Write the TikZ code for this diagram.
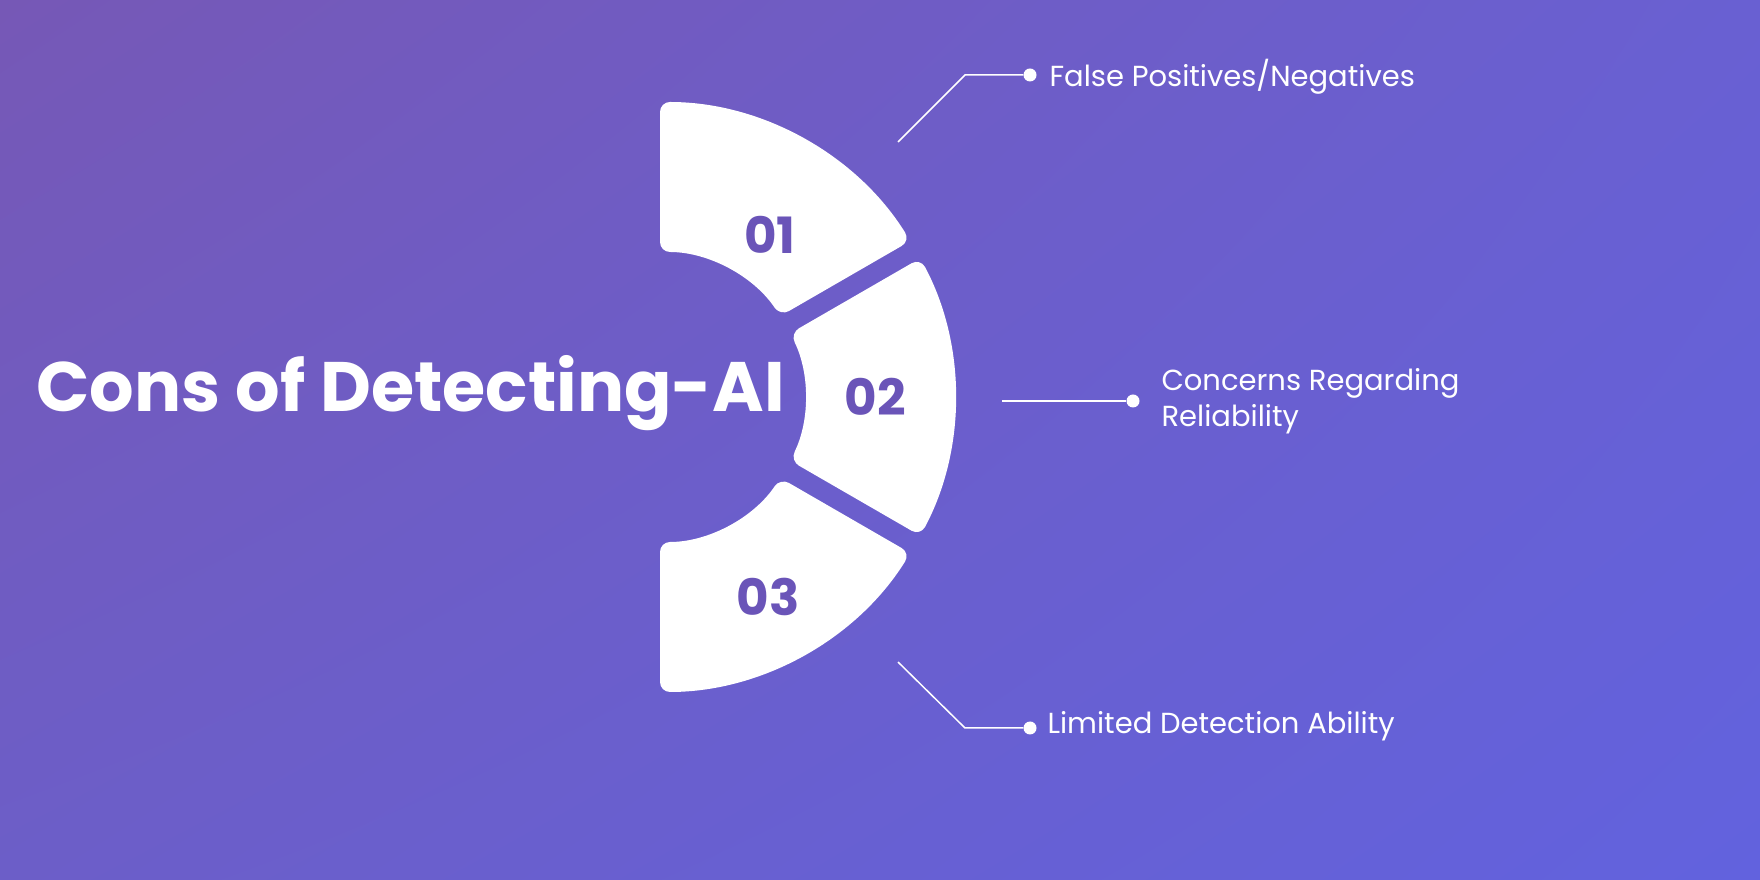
\documentclass[tikz,border=0pt]{standalone}
\usepackage{fontspec}
\usetikzlibrary{calc,shadings}
\setmainfont{Poppins}
\definecolor{numc}{HTML}{6A54B8}
\definecolor{bgul}{RGB}{118,88,182}
\definecolor{bgur}{RGB}{105,96,210}
\definecolor{bgll}{RGB}{108,94,200}
\definecolor{bglr}{RGB}{98,98,222}
\begin{document}
\begin{tikzpicture}[x=1pt,y=1pt,
  seg/.style={fill=white,rounded corners=10pt},
  num/.style={text=numc,font=\fontsize{50}{50}\selectfont\bfseries},
  lab/.style={text=white,font=\fontsize{29}{36}\selectfont,anchor=west,align=left},
  lead/.style={draw=white,line width=1.5pt},
  dotc/.style={circle,fill=white,inner sep=0pt,minimum size=13pt}]
\useasboundingbox (0,0) rectangle (1760,880);
\shade[upper left=bgul,upper right=bgur,lower left=bgll,lower right=bglr] (0,0) rectangle (1760,880);
\coordinate (c) at (660,483);
\path[seg] ($(c)+(90:295)$) arc[start angle=90,end angle=31.94,radius=295] -- ($(c)+(33.95:145)$) arc[start angle=33.95,end angle=90,radius=145] -- cycle;
\path[seg] ($(c)+(28.06:295)$) arc[start angle=28.06,end angle=-28.06,radius=295] -- ($(c)+(-26.05:145)$) arc[start angle=-26.05,end angle=26.05,radius=145] -- cycle;
\path[seg] ($(c)+(-31.94:295)$) arc[start angle=-31.94,end angle=-90,radius=295] -- ($(c)+(-90:145)$) arc[start angle=-90,end angle=-33.95,radius=145] -- cycle;
\node[num] (n1) at (770,645) {01};
\node[num] (n2) at (875,483) {02};
\node[num] (n3) at (768,283) {03};
\node[anchor=west,text=white,font=\fontsize{70}{70}\selectfont\bfseries] (t) at (33,487) {Cons of Detecting-AI};
\coordinate (a1) at (898,738); \coordinate (b1) at (965,805);
\node[dotc] (d1) at (1030,805) {};
\node[lab] (l1) at (1046,803) {False Positives/Negatives};
\draw[lead] (a1) -- (b1) -- (d1);
\coordinate (a2) at (1002,479);
\node[dotc] (d2) at (1133,479) {};
\node[lab] (l2) at (1158,479) {Concerns Regarding\\Reliability};
\draw[lead] (a2) -- (d2);
\coordinate (a3) at (898,218); \coordinate (b3) at (965,152);
\node[dotc] (d3) at (1030,152) {};
\node[lab] (l3) at (1044,154) {Limited Detection Ability};
\draw[lead] (a3) -- (b3) -- (d3);
\end{tikzpicture}
\end{document}
